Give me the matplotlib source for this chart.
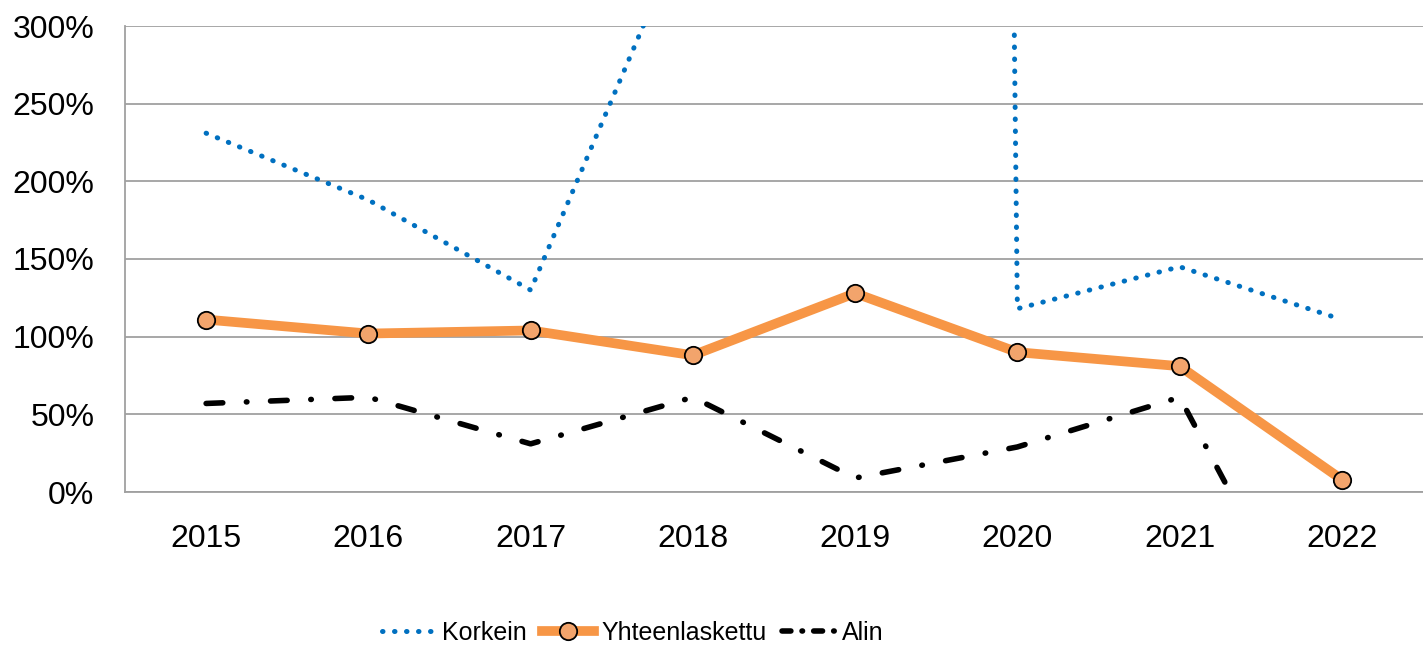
import numpy as np
import matplotlib.pyplot as plt

# values (percent)
years = ['2015', '2016', '2017', '2018', '2019', '2020', '2021', '2022']
korkein = [231, 188, 130, 375, 9500, 118, 145, 111]
yhteenlaskettu = [111, 102, 104, 88, 128, 90, 81, 8]
alin = [57, 61, 31, 61, 9, 29, 61, -135]
y_ticks = [0, 50, 100, 150, 200, 250, 300]

plt.rcParams['font.family'] = ['Liberation Sans', 'DejaVu Sans']

fig = plt.figure(figsize=(14.23, 6.48), dpi=100)
ax = fig.add_axes([125 / 1423, 1 - 492 / 648, 1298 / 1423, 466 / 648])

x = np.arange(len(years))
ax.plot(x, korkein, color='#0070C0', linewidth=3.6, linestyle=(0, (0.1, 2.3)),
        dash_capstyle='round', label='Korkein', zorder=3)
ax.plot(x, yhteenlaskettu, color='#F79646', linewidth=7, marker='o', markersize=12.5,
        markerfacecolor='#F2A46C', markeredgecolor='black', markeredgewidth=1.3,
        solid_joinstyle='round', label='Yhteenlaskettu', zorder=4)
ax.plot(x, alin, color='black', linewidth=4, linestyle=(0, (3.0, 4.25, 0.1, 4.25)),
        dash_capstyle='round', label='Alin', zorder=3)

ax.set_xlim(-0.5, len(years) - 0.5)
ax.set_ylim(0, 300)
ax.set_xticks(x)
ax.set_xticklabels(years)
ax.set_yticks(y_ticks)
ax.set_yticklabels([f'{v}%' for v in y_ticks])
ax.tick_params(length=0, labelsize=23, colors='black')
ax.tick_params(axis='x', pad=23)
ax.tick_params(axis='y', pad=22)

ax.grid(axis='y', color='#A0A0A0', linewidth=1.3)
ax.set_axisbelow(True)
for side in ['top', 'right']:
    ax.spines[side].set_visible(False)
for side in ['left', 'bottom']:
    ax.spines[side].set_color('#A0A0A0')
    ax.spines[side].set_linewidth(1.3)

leg = fig.legend(loc='center', bbox_to_anchor=(633 / 1423, 1 - 633 / 648), ncol=3, frameon=False,
                 prop={'size': 18}, handlelength=2.1, handletextpad=0.3, columnspacing=0.6)
# legend sample for Alin: dash - dot - dash
leg.get_lines()[2].set_linestyle((0, (1.6, 2.0, 0.1, 2.0)))

fig.savefig('out.png', dpi=100)
